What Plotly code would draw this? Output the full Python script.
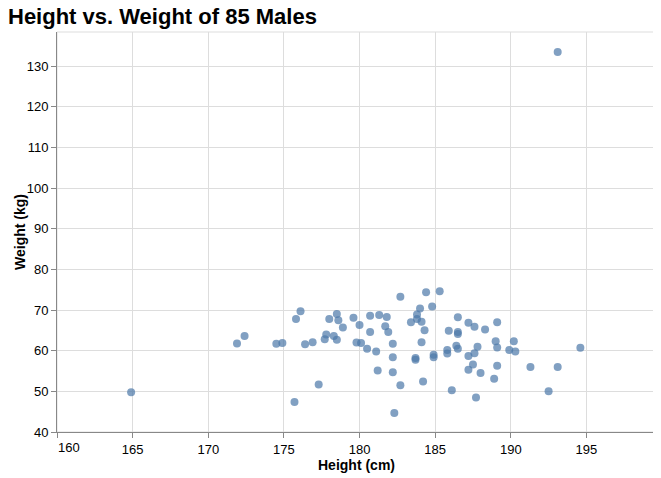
import plotly.graph_objects as go

# heights (cm) and weights (kg), one pair per male
HEIGHT_CM = [
    164.9, 171.9, 172.4, 174.5, 174.9, 175.8, 176.1, 176.4, 176.9, 177.3,
    175.7, 177.7, 177.8, 178.0, 178.3, 178.5, 178.6, 178.5, 178.9, 179.6,
    179.8, 180.0, 180.1, 180.5, 180.7, 180.7, 181.1, 181.2, 181.3, 181.7,
    181.8, 181.9, 182.2, 182.2, 182.2, 182.3, 182.7, 182.7, 183.4, 183.7,
    183.7, 183.8, 183.8, 184.0, 184.1, 184.1, 184.2, 184.3, 184.4, 184.8,
    184.9, 184.9, 185.3, 185.8, 185.8, 185.9, 186.1, 186.5, 186.5, 186.5,
    186.4, 186.5, 187.2, 187.2, 187.2, 187.6, 188.3, 189.1, 189.0, 189.1,
    187.8, 187.6, 187.5, 188.0, 189.1, 188.9, 187.7, 189.9, 190.2, 190.3,
    191.3, 193.1, 192.5, 194.6, 193.1,
]
WEIGHT_KG = [
    49.8, 61.8, 63.6, 61.7, 61.9, 67.8, 69.7, 61.6, 62.1, 51.7,
    47.4, 62.8, 64.0, 67.8, 63.6, 69.0, 67.5, 62.7, 65.7, 68.1,
    62.0, 66.3, 61.9, 60.5, 68.6, 64.6, 59.8, 55.1, 68.8, 66.0,
    68.3, 64.6, 61.7, 58.4, 54.7, 44.7, 73.3, 51.5, 67.0, 58.2,
    57.8, 67.8, 68.9, 70.4, 67.1, 62.1, 52.4, 65.0, 74.4, 70.9,
    59.0, 58.4, 74.6, 60.2, 59.3, 64.9, 50.3, 64.6, 64.1, 68.2,
    61.2, 60.5, 66.9, 58.7, 55.3, 65.9, 65.2, 67.0, 62.3, 60.8,
    61.0, 59.4, 56.6, 54.5, 56.3, 53.1, 48.5, 60.2, 62.3, 59.8,
    56.0, 56.0, 50.0, 60.7, 133.5,
]
X_TICKS = [160, 165, 170, 175, 180, 185, 190, 195]
Y_TICKS = [40, 50, 60, 70, 80, 90, 100, 110, 120, 130]

FONT = "Liberation Sans, Arial, sans-serif"
GRID = "#dddddd"
AXIS = "#888888"

# the page body keeps its default 8px margin, so the figure is shrunk by that much
BODY = 8
FIG_W = 661 - BODY
FIG_H = 478 - BODY


def main() -> None:
    fig = go.Figure()
    fig.add_trace(
        go.Scatter(
            x=HEIGHT_CM,
            y=WEIGHT_KG,
            mode="markers",
            marker=dict(size=8, color="#4c78a8", opacity=0.7, line=dict(width=0)),
            hoverinfo="x+y",
        )
    )

    # view border like vega-lite's default stroke
    fig.add_shape(
        type="rect", xref="paper", yref="paper", x0=0, y0=0, x1=1, y1=1,
        line=dict(color=GRID, width=1), layer="below",
    )

    fig.update_layout(
        width=FIG_W,
        height=FIG_H,
        margin=dict(l=57 - BODY, r=5, t=32 - BODY, b=46),
        paper_bgcolor="white",
        plot_bgcolor="white",
        showlegend=False,
        font=dict(family=FONT, size=13, color="#000000"),
        title=dict(
            text="Height vs. Weight of 85 Males",
            font=dict(family=FONT, size=22, color="#000000", weight="bold"),
            xref="container", yref="container",
            x=0, xanchor="left",
            y=1 - (16 - BODY) / FIG_H, yanchor="middle",
            pad=dict(l=0, r=0, t=0, b=0),
        ),
    )
    fig.update_xaxes(
        range=[160, 199.6],
        tickvals=X_TICKS,
        ticktext=[""] + [str(t) for t in X_TICKS[1:]],
        showgrid=True, gridcolor=GRID, gridwidth=1,
        showline=True, linecolor=AXIS, linewidth=1,
        ticks="outside", ticklen=5, tickcolor=AXIS,
        zeroline=False, automargin=False,
        tickfont=dict(size=13, color="#000000"),
        title=dict(text="Height (cm)", font=dict(size=14, weight="bold"), standoff=4),
    )
    fig.update_yaxes(
        range=[40, 138.4],
        tickvals=Y_TICKS,
        showgrid=True, gridcolor=GRID, gridwidth=1,
        showline=True, linecolor=AXIS, linewidth=1,
        ticks="outside", ticklen=5, tickcolor=AXIS,
        zeroline=False, automargin=False,
        tickfont=dict(size=13, color="#000000"),
    )

    # y title as an annotation so it can sit closer to the tick labels
    fig.add_annotation(
        x=0, y=0.5, xref="paper", yref="paper", text="Weight (kg)", showarrow=False,
        textangle=-90, xanchor="center", yanchor="middle", xshift=-37,
        font=dict(family=FONT, size=14, color="#000000", weight="bold"),
    )

    # first x label sits flush with the left edge, as in the original
    fig.add_annotation(
        x=160, y=0, xref="x", yref="paper", text="160", showarrow=False,
        xanchor="left", yanchor="top", yshift=-6, xshift=-1,
        font=dict(family=FONT, size=13, color="#000000"),
    )

    fig.write_html("out.html")


if __name__ == "__main__":
    main()
